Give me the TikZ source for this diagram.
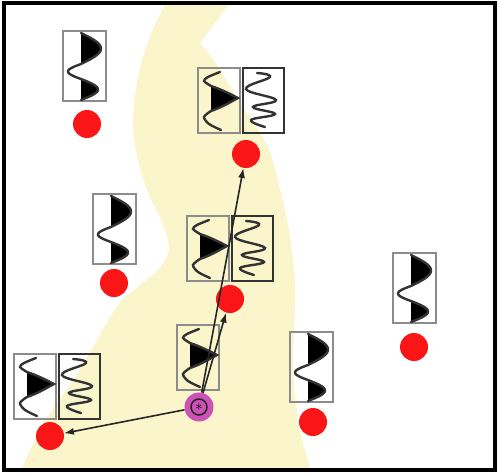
\documentclass[tikz,border=0pt]{standalone}
\usepackage{tikz}
\usetikzlibrary{arrows.meta}

\definecolor{sand}{RGB}{251,245,203}
\definecolor{srcpink}{RGB}{204,82,184}
\definecolor{dotred}{RGB}{250,22,22}

\begin{document}
\begin{tikzpicture}[x=1pt,y=-1pt,
			receiver/.style={circle,fill=dotred,minimum size=28pt,inner sep=0pt},
			source/.style={circle,fill=srcpink,minimum size=29pt,inner sep=0pt},
			ring/.style={circle,draw=black!85,line width=1.5pt,minimum size=16pt,inner sep=0pt,font=\Large},
			ray/.style={draw=black!85,line width=1.6pt,-{Latex[length=10pt,width=7pt]}},
			gbox/.style={draw=black!45,line width=2pt},
			kbox/.style={draw=black!80,line width=2.2pt},
			trc/.style={draw=black!80,line width=2.4pt,line cap=round},
			%trace with two lobes
			gather/.pic={
				\draw[gbox] (0,0) rectangle (43,70);
				\fill[black] plot[domain=2:33,samples=30,variable=\t] ({18+20*sin(180*(\t-2)/31)},\t) -- cycle;
				\fill[black] plot[domain=48:69,samples=30,variable=\t] ({18+17*sin(180*(\t-48)/21)},\t) -- cycle;
				\draw[trc] plot[domain=2:33,samples=30,variable=\t] ({18+20*sin(180*(\t-2)/31)},\t)
					-- plot[domain=33:48,samples=20,variable=\t] ({18-13*sin(180*(\t-33)/15)},\t)
					-- plot[domain=48:69,samples=30,variable=\t] ({18+17*sin(180*(\t-48)/21)},\t);
			},
			%one wavelet
			wavelet/.pic={
				\draw[gbox] (0,0) rectangle (42,65);
				\fill[black] (13,18) .. controls (25,22) and (34,27) .. (40,30) .. controls (34,33) and (25,39) .. (13,43) -- cycle;
				\draw[trc] plot[smooth] coordinates {(22,4) (10,9) (6,13) (13,18)}
					.. controls (25,22) and (34,27) .. (40,30) .. controls (34,33) and (25,39) .. (13,43)
					-- plot[smooth] coordinates {(13,43) (6,49) (11,56) (23,62)};
			},
			%noisy trace
			noise/.pic={
				\draw[kbox] (0,0) rectangle (41,65);
				\draw[trc] plot[smooth,tension=0.7] coordinates {(14,5) (27,9) (3,21) (33,32) (10,39) (32,46) (8,52) (22,59)};
			},
			pair/.pic={
				\pic at (0,0) {wavelet};
				\pic at (45,0) {noise};
			},
			]

			\useasboundingbox (0,0) rectangle (498,474);
			\fill[white] (0,0) rectangle (498,474);

			%sand body
			\fill[sand] (166,3) -- (230,3) -- (200,43)
				-- plot[smooth] coordinates {(200,43) (215,62) (235,95) (255,125) (270,152) (279,185) (289,230) (295,283) (294,330) (293,370) (298,420) (304,447) (310,468)}
				-- (22,468)
				-- plot[smooth] coordinates {(22,468) (35,440) (50,413) (75,378) (97,340) (118,305) (140,285) (160,268) (169,248) (162,222) (149,195) (139,165) (133,130) (135,95) (142,60) (154,27) (166,3)}
				-- cycle;

			%traces
			\pic at (63,31) {gather};
			\pic at (93,194) {gather};
			\pic at (393,253) {gather};
			\pic at (290,332) {gather};
			\pic at (198,68) {pair};
			\pic at (187,216) {pair};
			\pic at (14,354) {pair};
			\pic at (177,325) {wavelet};

			%receivers
			\node[receiver] (R1) at (87,124) {};
			\node[receiver] (R2) at (246,154) {};
			\node[receiver] (R3) at (114,283) {};
			\node[receiver] (R4) at (230,299) {};
			\node[receiver] (R5) at (50,436) {};
			\node[receiver] (R6) at (414,347) {};
			\node[receiver] (R7) at (313,422) {};

			%source
			\node[source] (Src) at (199,407) {};
			\node[ring] (SrcIn) at (Src) {$\ast$};

			\draw[ray] (Src) -- (R2);
			\draw[ray] (Src) -- (R4);
			\draw[ray] (Src) -- (R5);

			%frame
			\draw[line width=3.5pt] (4,3) rectangle (495,470);

\end{tikzpicture}
\end{document}
